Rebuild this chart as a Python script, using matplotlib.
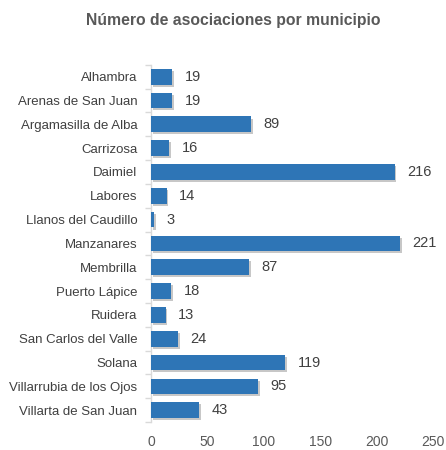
import matplotlib
matplotlib.use("Agg")
import matplotlib.pyplot as plt
import matplotlib.patheffects as pe
import numpy as np

categories = ["Alhambra", "Arenas de San Juan", "Argamasilla de Alba", "Carrizosa",
              "Daimiel", "Labores", "Llanos del Caudillo", "Manzanares", "Membrilla",
              "Puerto Lápice", "Ruidera", "San Carlos del Valle", "Solana",
              "Villarrubia de los Ojos", "Villarta de San Juan"]
values = [19, 19, 89, 16, 216, 14, 3, 221, 87, 18, 13, 24, 119, 95, 43]
xticks = [0, 50, 100, 150, 200, 250]
title = "Número de asociaciones por municipio"

plt.rcParams['font.family'] = ['Liberation Sans', 'DejaVu Sans']

fig = plt.figure(figsize=(4.46, 4.50), dpi=100)
ax = fig.add_axes([0.3386, 0.062, 0.632, 0.794])

y = np.arange(len(categories))
bars = ax.barh(y, values, height=0.66, color="#2E75B6", zorder=3)
for b in bars:
    b.set_path_effects([pe.SimplePatchShadow(offset=(1.2, -1.5), shadow_rgbFace="#000000", alpha=0.22),
                        pe.Normal()])

for yi, v in zip(y, values):
    ax.annotate(str(v), (v, yi), xytext=(9, 0), textcoords="offset points",
                va="center", ha="left", fontsize=10.5, color="#404040")

ax.set_ylim(len(categories) - 0.5, -0.5)
ax.set_xlim(0, 250)
ax.set_xticks(xticks)
ax.set_yticks(y)
ax.set_yticklabels(categories)
ax.set_yticks(np.arange(-0.5, len(categories), 1), minor=True)
ax.tick_params(axis="y", which="major", length=0, pad=10, labelsize=9.5, labelcolor="#404040")
ax.tick_params(axis="y", which="minor", length=4, color="#D9D9D9", width=1)
ax.tick_params(axis="x", length=0, pad=9, labelsize=10, labelcolor="#595959")

for s in ["top", "right", "bottom"]:
    ax.spines[s].set_visible(False)
ax.spines["left"].set_color("#D9D9D9")
ax.spines["left"].set_linewidth(1)

fig.text(0.523, 0.955, title, ha="center", va="center", fontsize=11.3, fontweight="bold", color="#595959")

fig.savefig("out.png", dpi=100)
